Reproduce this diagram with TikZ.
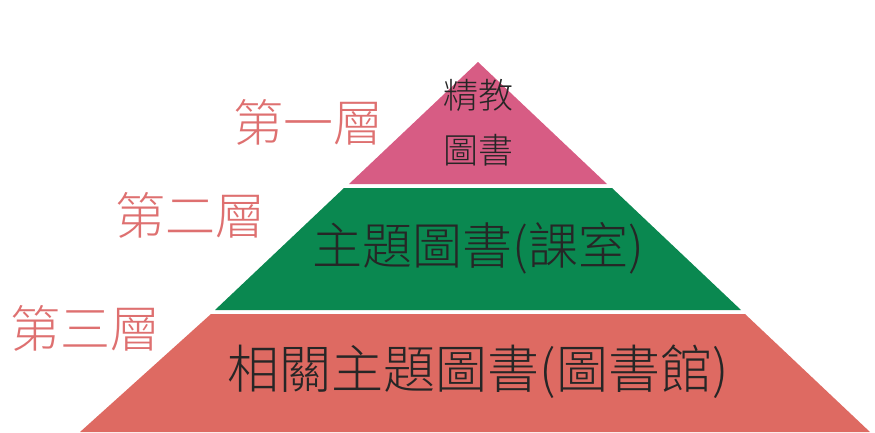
\documentclass[tikz,border=0pt]{standalone}
\usepackage{fontspec}
\newfontfamily\cjk{Noto Sans CJK TC Light}
\definecolor{toppink}{RGB}{215,92,132}
\definecolor{midgreen}{RGB}{10,136,80}
\definecolor{basered}{RGB}{222,106,98}
\definecolor{tagred}{RGB}{222,112,112}

\begin{document}
\begin{tikzpicture}[
    x=1pt, y=-1pt,
    tag/.style={text=tagred, font=\cjk\fontsize{50}{50}\selectfont},
    inside/.style={text=black!85, font=\cjk\fontsize{#1}{#1}\selectfont},
    inside/.default=48
]
    \useasboundingbox (0,0) rectangle (875,432);

    % The three layers of the pyramid
    \fill[toppink]  (478,62) -- (607,184) -- (349,184) -- cycle;
    \fill[midgreen] (344,188) -- (612,188) -- (741,310) -- (215,310) -- cycle;
    \fill[basered]  (211,314) -- (745,314) -- (870,432) -- (80,432) -- cycle;

    % Texts inside
    \node[inside=35] (top1) at (478,95) {精教};
    \node[inside=35] (top2) at (478,150) {圖書};
    \node[inside=50] (mid) at (478,248) {主題圖書(課室)};
    \node[inside=52] (base) at (478,372) {相關主題圖書(圖書館)};

    % Layer names on the left
    \node[tag] (lvl1) at (308,122) {第一層};
    \node[tag] (lvl2) at (190,215) {第二層};
    \node[tag] (lvl3) at (85,328) {第三層};

\end{tikzpicture}
\end{document}
